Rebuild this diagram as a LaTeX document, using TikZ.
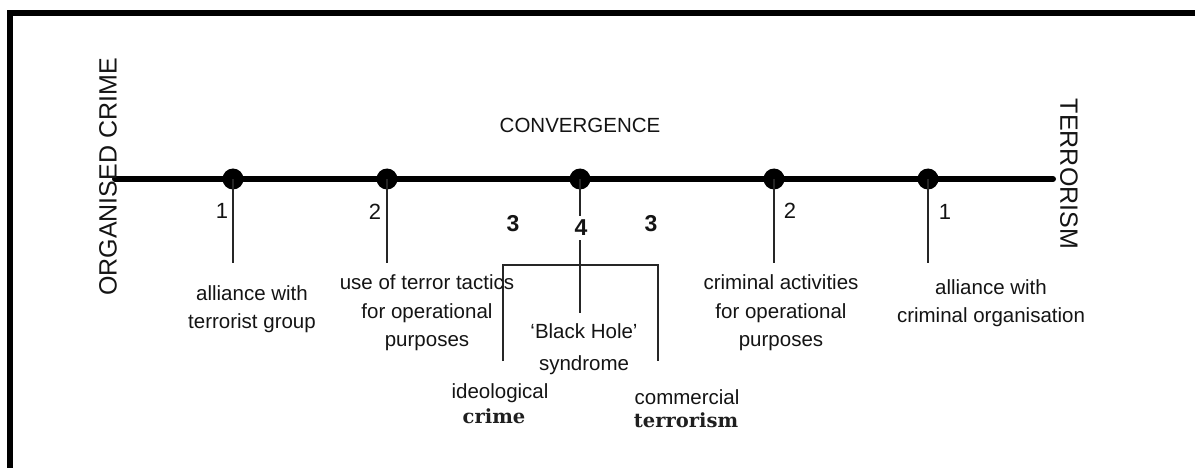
\documentclass[tikz,border=0pt]{standalone}
\usepackage{fontspec}
\setmainfont{Liberation Sans}
\newfontfamily\dvserif{DejaVu Serif}
\begin{document}
\begin{tikzpicture}[x=1pt,y=-1pt,
  lbl/.style={font=\fontsize{20.5}{28.5}\selectfont, align=center, inner sep=0pt, text=black!92},
  num/.style={font=\fontsize{22}{24}\selectfont, inner sep=2pt, text=black!92},
  bnum/.style={font=\fontsize{23}{24}\selectfont\bfseries, inner sep=2pt, text=black!92},
  dot/.style={circle, fill=black, minimum size=21pt, inner sep=0pt},
  stem/.style={line width=2pt, black!85},
  big/.style={font=\fontsize{25}{30}\selectfont, inner sep=0pt, text=black!92},
  ser/.style={font=\fontsize{19.5}{22}\dvserif\bfseries, inner sep=0pt, text=black!88}
]
\useasboundingbox (0,0) rectangle (1195,468);
% frame (cut off at right and bottom)
\draw[line width=6pt] (10.3,471) -- (10.3,13) -- (1199,13);

% axis
\coordinate (L) at (115,179);
\coordinate (R) at (1053,179);
\draw[line width=6pt, line cap=round] (L) -- (R);

% end titles
\node[big, rotate=90] (oc) at (108,177) {ORGANISED CRIME};
\node[big, rotate=-90] (te) at (1069,174) {TERRORISM};
\node[lbl] (conv) at (580,125) {CONVERGENCE};

% dots
\node[dot] (d1) at (233,179) {};
\node[dot] (d2) at (387,179) {};
\node[dot] (d3) at (580,179) {};
\node[dot] (d4) at (774,179) {};
\node[dot] (d5) at (928,179) {};

% stems
\coordinate (e1) at (233,263);
\coordinate (e2) at (387,263);
\coordinate (e4) at (774,263);
\coordinate (e5) at (928,263);
\draw[stem] (d1.center) -- (e1);
\draw[stem] (d2.center) -- (e2);
\draw[stem] (d4.center) -- (e4);
\draw[stem] (d5.center) -- (e5);

% numbers
\node[num] (n1) at (222,211) {1};
\node[num] (n2) at (375,212) {2};
\node[num] (n4) at (790,211) {2};
\node[num] (n5) at (945,212) {1};
\node[bnum] (n3a) at (513,224) {3};
\node[bnum] (n3c) at (651,224) {3};
\node[bnum, inner sep=4pt] (n3) at (581,228) {4};

% centre stem with gap around 4
\coordinate (e3) at (580,313);
\draw[stem] (d3.center) -- (d3.center |- n3.north);
\draw[stem] (d3.center |- n3.south) -- (e3);

% bracket
\coordinate (bl) at (503,361);
\coordinate (br) at (658,361);
\draw[stem] (bl) -- (503,265) -- (658,265) -- (br);

% labels
\node[lbl] (t1) at (252,309) {alliance with\\terrorist group};
\node[lbl] (t2) at (427,313) {use of terror tactics\\for operational\\purposes};
\node[lbl, font=\fontsize{20.5}{32}\selectfont] (t3) at (584,349) {`Black Hole'\\syndrome};
\node[lbl] (t4) at (781,313) {criminal activities\\for operational\\purposes};
\node[lbl] (t5) at (991,303) {alliance with\\criminal organisation};

\node[lbl] (ia) at (500,393) {ideological};
\node[ser] (ib) at (494,416) {crime};
\node[lbl] (ca) at (687,397) {commercial};
\node[ser] (cb) at (686,420) {terrorism};
\end{tikzpicture}
\end{document}
